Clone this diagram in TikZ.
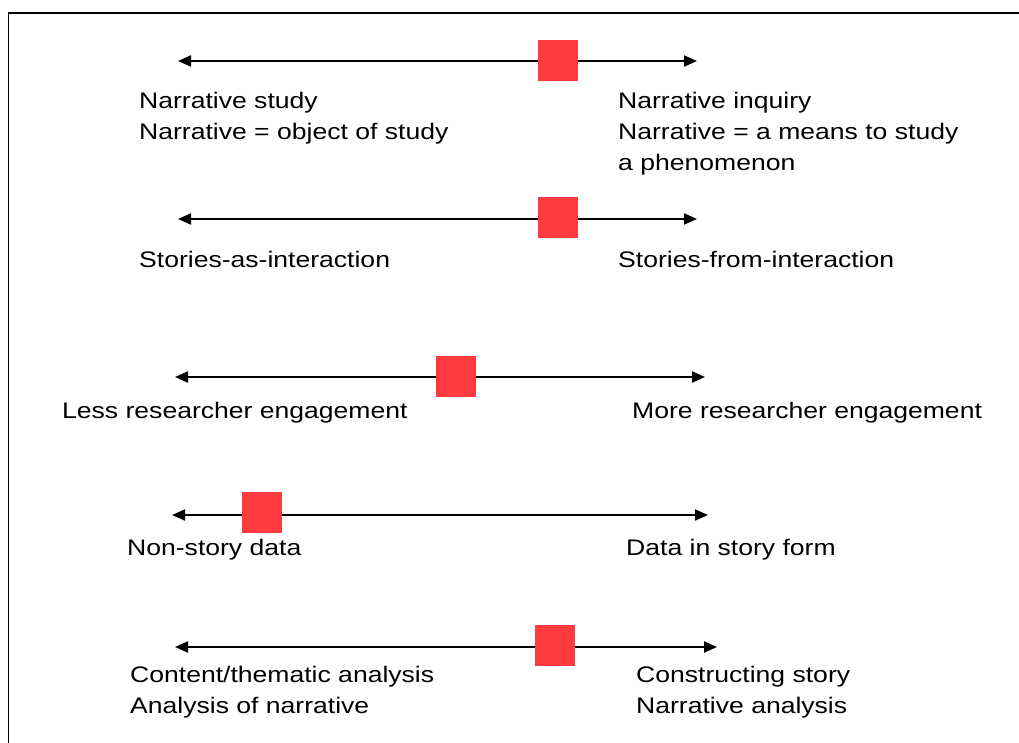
\documentclass[tikz,border=0pt]{standalone}
\usepackage{fontspec}
\usepackage{graphicx}
\setmainfont{Liberation Sans}
\usetikzlibrary{arrows.meta}
\definecolor{markred}{HTML}{FF3B3F}
\newcommand{\wideline}[1]{\scalebox{1.18}[1]{#1}}
\tikzset{
  axis/.style={line width=2pt, {Triangle[length=13pt,width=11pt]}-{Triangle[length=13pt,width=11pt]}},
  marker/.style={fill=markred, draw=none, minimum width=40pt, minimum height=41pt, inner sep=0pt},
  label/.style={anchor=base west, inner sep=0pt, align=left, font=\fontsize{22.5}{31}\selectfont},
  frame/.style={line width=1.8pt}
}
\begin{document}
\begin{tikzpicture}[x=1pt,y=-1pt]
\useasboundingbox (0,0) rectangle (1019,743);
\fill[white] (0,0) rectangle (1019,743);
\draw[frame] (8.5,760) -- (8.5,13) -- (1040,13);

% continuum 1 (labels are anchored on the baseline of their last line)
\coordinate (l1) at (178,61);
\coordinate (r1) at (697,61);
\draw[axis] (l1) -- (r1);
\node[marker] (m1) at (558,61) {};
\node[label] (t1l) at (139,140) {\wideline{Narrative study}\\\wideline{Narrative = object of study}};
\node[label] (t1r) at (618,171) {\wideline{Narrative inquiry}\\\wideline{Narrative = a means to study}\\\wideline{a phenomenon}};

% continuum 2
\coordinate (l2) at (178,219);
\coordinate (r2) at (697,219);
\draw[axis] (l2) -- (r2);
\node[marker] (m2) at (558,218) {};
\node[label] (t2l) at (139,267) {\wideline{Stories-as-interaction}};
\node[label] (t2r) at (618,267) {\wideline{Stories-from-interaction}};

% continuum 3
\coordinate (l3) at (175,377);
\coordinate (r3) at (705,377);
\draw[axis] (l3) -- (r3);
\node[marker] (m3) at (456,376) {};
\node[label] (t3l) at (62,418) {\wideline{Less researcher engagement}};
\node[label] (t3r) at (632,418) {\wideline{More researcher engagement}};

% continuum 4
\coordinate (l4) at (172,515);
\coordinate (r4) at (708,515);
\draw[axis] (l4) -- (r4);
\node[marker] (m4) at (262,512) {};
\node[label] (t4l) at (127,555) {\wideline{Non-story data}};
\node[label] (t4r) at (626,555) {\wideline{Data in story form}};

% continuum 5
\coordinate (l5) at (175,647);
\coordinate (r5) at (717,647);
\draw[axis] (l5) -- (r5);
\node[marker] (m5) at (555,645) {};
\node[label] (t5l) at (130,713) {\wideline{Content/thematic analysis}\\\wideline{Analysis of narrative}};
\node[label] (t5r) at (636,713) {\wideline{Constructing story}\\\wideline{Narrative analysis}};
\end{tikzpicture}
\end{document}
